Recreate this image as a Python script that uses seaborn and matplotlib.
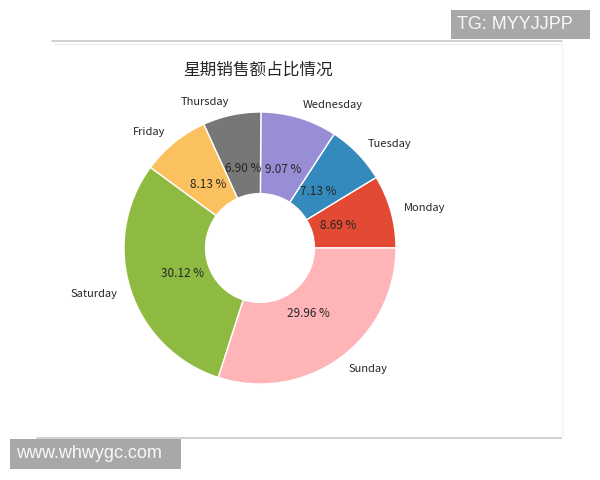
import matplotlib
matplotlib.use('Agg')
import matplotlib.pyplot as plt
import seaborn as sns
from matplotlib.lines import Line2D
from matplotlib.patches import Rectangle

# 每天的销售额占比 (%)
days = ['Monday', 'Tuesday', 'Wednesday', 'Thursday', 'Friday', 'Saturday', 'Sunday']
share = [8.69, 7.13, 9.07, 6.90, 8.13, 30.12, 29.96]
title = '星期销售额占比情况'

# ggplot 配色
colors = sns.color_palette(['#E24A33', '#348ABD', '#988ED5', '#777777',
                            '#FBC15E', '#8EBA42', '#FFB5B8'])

sns.set_style('white')
plt.rcParams['font.family'] = ['Noto Sans CJK SC', 'DejaVu Sans']

W, H = 600, 480
fig = plt.figure(figsize=(6, 4.8), dpi=100)
# 饼图区域: 圆心 (260, 248) 半径 136 像素
ax = fig.add_axes([124 / W, 96 / H, 272 / W, 272 / H])

wedges, texts, autotexts = ax.pie(
    share, labels=days, colors=colors, startangle=0,
    autopct='%.2f %%', pctdistance=0.6, labeldistance=1.1,
    wedgeprops={'width': 0.6, 'edgecolor': 'white', 'linewidth': 1},
    textprops={'fontsize': 8})
for t in autotexts:
    t.set_fontsize(8.5)
ax.set_xlim(-1, 1)
ax.set_ylim(-1, 1)
ax.set_aspect('auto')
ax.axis('off')

fig.text(258 / W, 1 - 70 / H, title, fontsize=12, ha='center', va='center')

# 截图边框线
fig.add_artist(Line2D([52 / W, 562 / W], [1 - 40.5 / H, 1 - 40.5 / H],
                      color='#c8c8c8', lw=1.2))
fig.add_artist(Line2D([55 / W, 562 / W], [1 - 43.5 / H, 1 - 43.5 / H],
                      color='#ececec', lw=1))
fig.add_artist(Line2D([37 / W, 562 / W], [1 - 438 / H, 1 - 438 / H],
                      color='#c8c8c8', lw=1.2))
fig.add_artist(Line2D([562 / W, 562 / W], [1 - 44 / H, 1 - 438 / H],
                      color='#f4f4f4', lw=1))

# 水印
wm = dict(fontsize=13, color='#f8f8f8', family=['Liberation Sans', 'DejaVu Sans'],
          va='center', ha='left', zorder=3)
fig.add_artist(Rectangle((451 / W, 1 - 39 / H), 139 / W, 29 / H,
                         transform=fig.transFigure, fc='#a8a8a8', ec='none', zorder=2))
fig.text(457 / W, 1 - 24.5 / H, 'TG: MYYJJPP', **wm)
fig.add_artist(Rectangle((10 / W, 1 - 469 / H), 171 / W, 30 / H,
                         transform=fig.transFigure, fc='#a8a8a8', ec='none', zorder=2))
fig.text(16 / W, 1 - 454 / H, 'www.whwygc.com', **wm)

fig.savefig('out.png', dpi=100)
